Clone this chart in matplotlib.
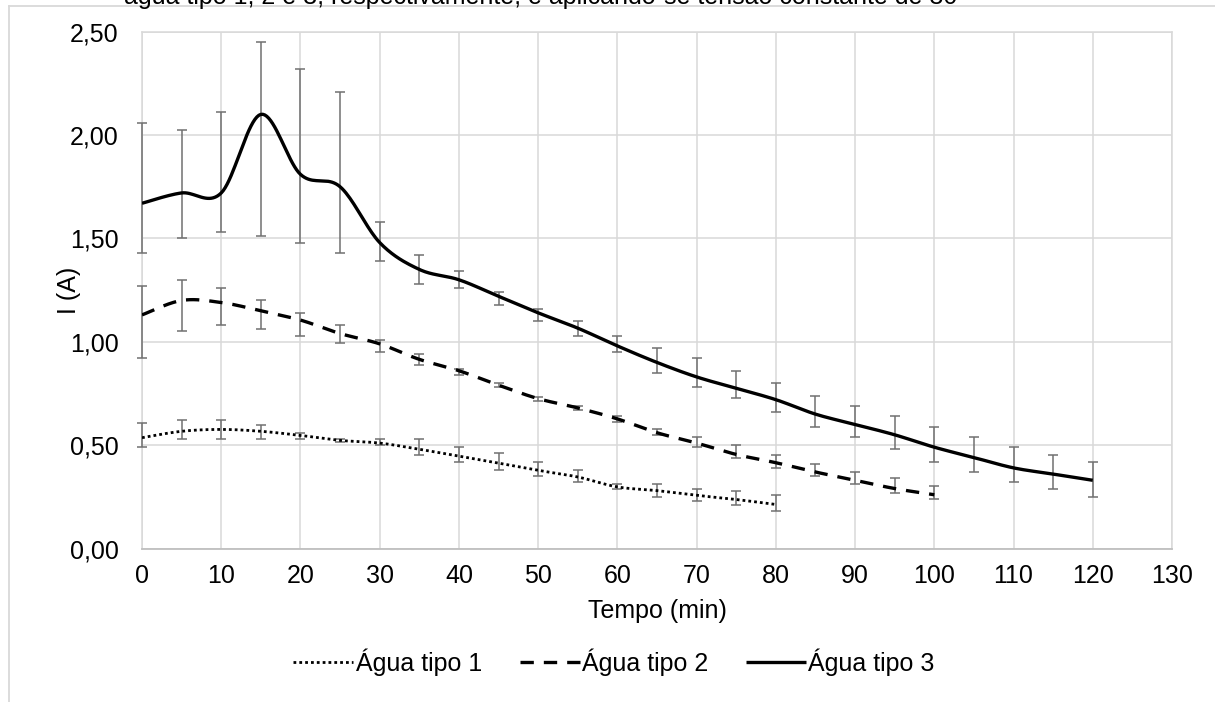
import numpy as np
import matplotlib
matplotlib.use('Agg')
import matplotlib.pyplot as plt
from matplotlib.ticker import FuncFormatter, MultipleLocator
from matplotlib.lines import Line2D

# PARAMS ----------------------------------------------------------------------
plt.rcParams['font.family'] = ['Liberation Sans', 'DejaVu Sans']
fs = 18
grid_col = '#d9d9d9'
err_col = '#707070'
# END PARAMS ------------------------------------------------------------------

# data
t1 = [0, 5, 10, 15, 20, 25, 30, 35, 40, 45, 50, 55, 60, 65, 70, 75, 80]
i1 = [0.536, 0.567, 0.576, 0.567, 0.547, 0.523, 0.51, 0.48, 0.447, 0.413,
      0.378, 0.346, 0.298, 0.28, 0.257, 0.237, 0.213]
i1_low = [0.49, 0.53, 0.53, 0.53, 0.53, 0.515, 0.50, 0.45, 0.417, 0.378,
          0.349, 0.32, 0.29, 0.25, 0.23, 0.21, 0.18]
i1_high = [0.607, 0.62, 0.62, 0.596, 0.56, 0.53, 0.528, 0.53, 0.49, 0.46,
           0.417, 0.378, 0.31, 0.31, 0.29, 0.276, 0.26]

t2 = [0, 5, 10, 15, 20, 25, 30, 35, 40, 45, 50, 55, 60, 65, 70, 75, 80,
      85, 90, 95, 100]
i2 = [1.13, 1.20, 1.19, 1.15, 1.105, 1.04, 0.99, 0.915, 0.86, 0.79, 0.725,
      0.68, 0.627, 0.56, 0.51, 0.455, 0.415, 0.37, 0.33, 0.29, 0.26]
i2_low = [0.92, 1.05, 1.08, 1.06, 1.03, 0.995, 0.95, 0.89, 0.84, 0.78, 0.715,
          0.67, 0.61, 0.55, 0.49, 0.44, 0.39, 0.35, 0.31, 0.27, 0.24]
i2_high = [1.27, 1.30, 1.26, 1.20, 1.14, 1.08, 1.01, 0.94, 0.87, 0.80, 0.735,
           0.69, 0.64, 0.58, 0.54, 0.50, 0.45, 0.41, 0.37, 0.34, 0.30]

t3 = [0, 5, 10, 15, 20, 25, 30, 35, 40, 45, 50, 55, 60, 65, 70, 75, 80,
      85, 90, 95, 100, 105, 110, 115, 120]
i3 = [1.67, 1.72, 1.72, 2.10, 1.81, 1.75, 1.48, 1.35, 1.30, 1.22, 1.14,
      1.066, 0.98, 0.90, 0.83, 0.775, 0.72, 0.65, 0.60, 0.55, 0.49, 0.44,
      0.39, 0.36, 0.33]
i3_low = [1.43, 1.50, 1.53, 1.51, 1.48, 1.43, 1.39, 1.28, 1.26, 1.18, 1.10,
          1.03, 0.95, 0.85, 0.78, 0.73, 0.66, 0.59, 0.54, 0.48, 0.42, 0.37,
          0.32, 0.29, 0.25]
i3_high = [2.06, 2.025, 2.11, 2.45, 2.32, 2.21, 1.58, 1.42, 1.34, 1.24, 1.16,
           1.10, 1.03, 0.97, 0.92, 0.86, 0.80, 0.74, 0.69, 0.64, 0.59, 0.54,
           0.49, 0.45, 0.42]

labels = ['Água tipo 1', 'Água tipo 2', 'Água tipo 3']
caption = 'água tipo 1, 2 e 3, respectivamente, e aplicando-se tensão constante de 30'


def smooth(x, y, n=20):
    # excel-like smoothed line: cubic bezier, control points from neighbours
    x = np.asarray(x, float)
    y = np.asarray(y, float)
    p = np.column_stack([x, y])
    pp = np.vstack([p[0], p, p[-1]])
    out = []
    s = np.linspace(0, 1, n, endpoint=False)[:, None]
    for k in range(len(p) - 1):
        p0 = pp[k + 1]
        p3 = pp[k + 2]
        c1 = p0 + (pp[k + 2] - pp[k]) / 6.0
        c2 = p3 - (pp[k + 3] - pp[k + 1]) / 6.0
        seg = ((1 - s) ** 3) * p0 + 3 * ((1 - s) ** 2) * s * c1 \
            + 3 * (1 - s) * s ** 2 * c2 + s ** 3 * p3
        out.append(seg)
    out.append(p[-1][None, :])
    out = np.vstack(out)
    return out[:, 0], out[:, 1]


fig = plt.figure(figsize=(12.15, 7.02), dpi=100)
ax = fig.add_axes([142 / 1215, 1 - 548.5 / 702, (1172 - 142) / 1215, (548.5 - 31.7) / 702])

series = [
    (t1, i1, i1_low, i1_high, (0, (1, 1.1)), 2.0),
    (t2, i2, i2_low, i2_high, (0, (4, 3)), 2.4),
    (t3, i3, i3_low, i3_high, '-', 2.4),
]
handles = []
for (t, v, lo, hi, ls, lw), lab in zip(series, labels):
    v_a = np.asarray(v)
    yerr = [v_a - np.asarray(lo), np.asarray(hi) - v_a]
    ax.errorbar(t, v, yerr=yerr, fmt='none', ecolor=err_col, elinewidth=1.1,
                capsize=3.8, capthick=1.1, zorder=3, clip_on=False)
    xs, ys = smooth(t, v)
    h, = ax.plot(xs, ys, color='black', lw=lw, linestyle=ls, label=lab,
                 zorder=4, solid_capstyle='butt')
    handles.append(h)

ax.set_xlim(0, 130)
ax.set_ylim(0, 2.5)
ax.xaxis.set_major_locator(MultipleLocator(10))
ax.yaxis.set_major_locator(MultipleLocator(0.5))
ax.yaxis.set_major_formatter(FuncFormatter(lambda v, p: ('%.2f' % v).replace('.', ',')))
ax.grid(True, color=grid_col, lw=1.1)
ax.set_axisbelow(True)
for side in ['left', 'top', 'right']:
    ax.spines[side].set_color(grid_col)
    ax.spines[side].set_linewidth(1.1)
ax.spines['bottom'].set_color('#bfbfbf')
ax.spines['bottom'].set_linewidth(1.3)
ax.tick_params(axis='both', length=0, labelsize=fs, colors='black')
ax.tick_params(axis='x', pad=11)
ax.tick_params(axis='y', pad=17)

ax.set_xlabel('Tempo (min)', fontsize=fs)
ax.xaxis.set_label_coords(0.5, (548.5 - 599) / (548.5 - 31.7))
ax.set_ylabel('I (A)', fontsize=fs)
ax.yaxis.set_label_coords((81 - 142) / 1030, 0.5)

fig.legend(handles=handles, labels=labels, loc='center', bbox_to_anchor=(614 / 1215, 1 - 662 / 702),
           ncol=3, frameon=False, fontsize=fs, handlelength=2.4, handletextpad=0.1,
           columnspacing=1.5)

# outer chart border, and the caption line cut at the top
fig.add_artist(Line2D([9 / 1215, 9 / 1215], [0, 1 - 6 / 702], transform=fig.transFigure,
                      color=grid_col, lw=1.3))
fig.add_artist(Line2D([9 / 1215, 1], [1 - 6 / 702, 1 - 6 / 702], transform=fig.transFigure,
                      color=grid_col, lw=1.3))
fig.text(124 / 1215, 1 - 4 / 702, caption, fontsize=fs, va='baseline', ha='left')

plt.savefig('out.png', dpi=100)
